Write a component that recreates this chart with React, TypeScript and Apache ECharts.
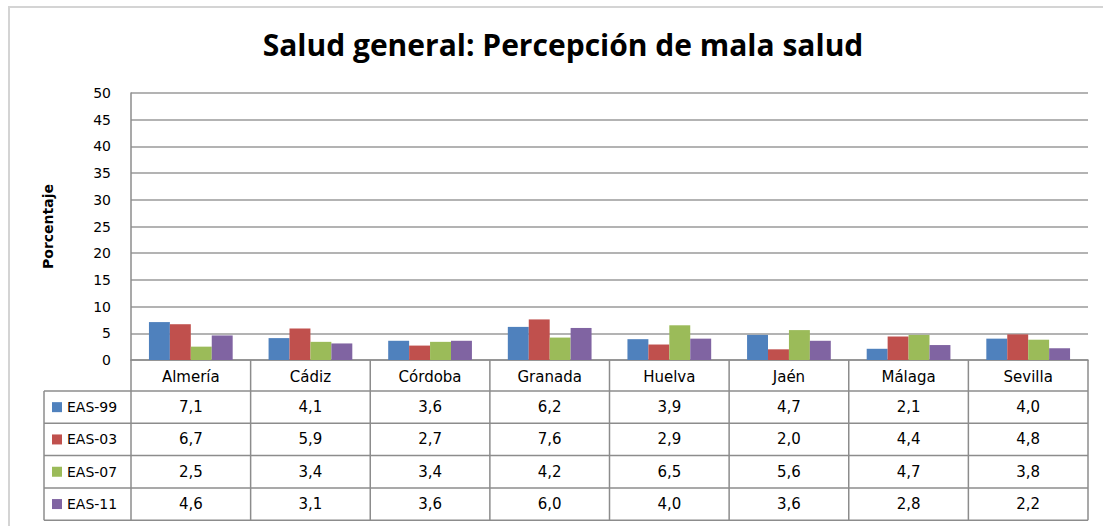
import React, { useEffect, useRef } from "react";
import * as echarts from "echarts";

const titleText = "Salud general: Percepción de mala salud";
const yAxisName = "Porcentaje";
const categories = ["Almería", "Cádiz", "Córdoba", "Granada", "Huelva", "Jaén", "Málaga", "Sevilla"];
const seriesNames = ["EAS-99", "EAS-03", "EAS-07", "EAS-11"];
const eas99 = [7.1, 4.1, 3.6, 6.2, 3.9, 4.7, 2.1, 4.0];
const eas03 = [6.7, 5.9, 2.7, 7.6, 2.9, 2.0, 4.4, 4.8];
const eas07 = [2.5, 3.4, 3.4, 4.2, 6.5, 5.6, 4.7, 3.8];
const eas11 = [4.6, 3.1, 3.6, 6.0, 4.0, 3.6, 2.8, 2.2];
const seriesValues = [eas99, eas03, eas07, eas11];
const colors = ["#4F81BD", "#C0504D", "#9BBB59", "#8064A2"];
const yMin = 0;
const yMax = 50;
const yStep = 5;

const W = 1103;
const H = 526;
const FONT = "DejaVu Sans";
const LINE = "#8c8c8c";

export default function App() {
  const ref = useRef<HTMLDivElement>(null);
  useEffect(() => {
    document.body.style.margin = "0";
    const chart = echarts.init(ref.current!, null, { renderer: "svg" });
    const gridLeft = 131;
    const gridRight = W - 1088;
    const gridTop = 93;
    const gridBottom = H - 360;
    chart.setOption({
      animation: false,
      color: colors,
      title: {
        text: titleText,
        left: 558,
        top: 24,
        textAlign: "center",
        textStyle: { fontFamily: "Open Sans", fontSize: 30, fontWeight: "bold", color: "#000" },
      },
      grid: { left: gridLeft, right: gridRight, top: gridTop, bottom: gridBottom },
      xAxis: {
        type: "category",
        data: categories,
        axisLine: { show: true, lineStyle: { color: LINE, width: 1.5 } },
        axisTick: { show: false },
        axisLabel: { margin: 9, fontFamily: FONT, fontSize: 15, color: "#000" },
      },
      yAxis: {
        type: "value",
        min: yMin,
        max: yMax,
        interval: yStep,
        name: yAxisName,
        nameLocation: "middle",
        nameGap: 76,
        nameTextStyle: { fontFamily: FONT, fontSize: 14, fontWeight: "bold", color: "#000" },
        axisLine: { show: true, lineStyle: { color: LINE, width: 1.5 } },
        axisTick: { show: false },
        axisLabel: { margin: 20, fontFamily: FONT, fontSize: 14, color: "#000" },
        splitLine: { lineStyle: { color: "#9a9a9a", width: 1.5 } },
      },
      series: seriesNames.map((name, k) => ({
        name,
        type: "bar",
        data: seriesValues[k],
        barGap: "0%",
        barCategoryGap: "30%",
        itemStyle: { color: colors[k] },
      })),
    });

    // Build the data table below the axis from the same arrays
    const centers = categories.map((c) => chart.convertToPixel({ xAxisIndex: 0 }, c) as number);
    const colW = centers.length > 1 ? centers[1] - centers[0] : 120;
    const axisY = chart.convertToPixel({ yAxisIndex: 0 }, 0) as number;
    const headerBottom = axisY + 31;
    const rowH = 32.3;
    const tableBottom = headerBottom + rowH * seriesNames.length;
    const legendLeft = 44;
    const left = centers[0] - colW / 2;
    const right = centers[centers.length - 1] + colW / 2;
    const lineStyle = { stroke: LINE, lineWidth: 1.5 };
    const elements: any[] = [];
    elements.push({
      type: "rect",
      shape: { x: 9, y: 7, width: W + 20, height: H + 20 },
      style: { fill: "none", stroke: "#d4d4d4", lineWidth: 2 },
      silent: true,
    });
    for (let i = 0; i <= categories.length; i++) {
      const x = left + i * colW;
      elements.push({ type: "line", shape: { x1: x, y1: axisY, x2: x, y2: tableBottom }, style: lineStyle });
    }
    elements.push({ type: "line", shape: { x1: legendLeft, y1: headerBottom, x2: legendLeft, y2: tableBottom }, style: lineStyle });
    for (let k = 0; k <= seriesNames.length; k++) {
      const y = headerBottom + k * rowH;
      elements.push({ type: "line", shape: { x1: legendLeft, y1: y, x2: right, y2: y }, style: lineStyle });
    }
    seriesNames.forEach((name, k) => {
      const cy = headerBottom + k * rowH + rowH / 2;
      elements.push({ type: "rect", shape: { x: legendLeft + 8, y: cy - 5, width: 10, height: 10 }, style: { fill: colors[k] } });
      elements.push({
        type: "text",
        x: legendLeft + 23,
        y: cy,
        style: { text: name, fontFamily: FONT, fontSize: 14, fill: "#000", textVerticalAlign: "middle", textAlign: "left" },
      });
      seriesValues[k].forEach((v, i) => {
        elements.push({
          type: "text",
          x: centers[i],
          y: cy,
          style: {
            text: v.toFixed(1).replace(".", ","),
            fontFamily: FONT,
            fontSize: 15,
            fill: "#000",
            textAlign: "center",
            textVerticalAlign: "middle",
          },
        });
      });
    });
    chart.setOption({ graphic: { elements } });
    return () => chart.dispose();
  }, []);
  return <div ref={ref} style={{ width: W, height: H, background: "#fff" }} />;
}
